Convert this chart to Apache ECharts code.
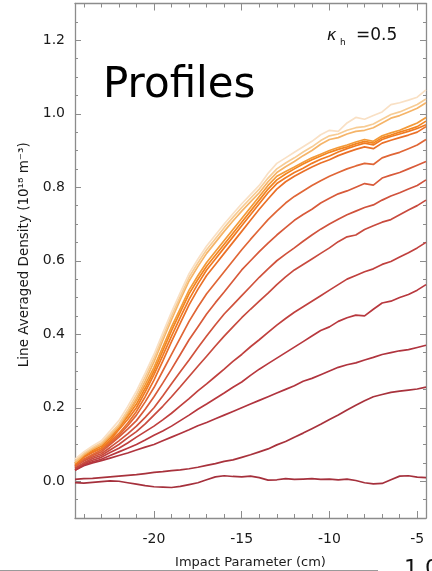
<!DOCTYPE html>
<html>
<head>
<meta charset="utf-8">
<script src="https://cdn.jsdelivr.net/npm/echarts@6/dist/echarts.min.js"></script>
<style>
  html, body { margin: 0; padding: 0; background: #fff; }
  #chart { width: 432px; height: 571px; }
</style>
</head>
<body>
<div id="chart"></div>
<script>
// Impact parameter positions (cm), every 0.5 cm
const impact = [-24.5, -24, -23.5, -23, -22.5, -22, -21.5, -21, -20.5, -20, -19.5, -19, -18.5, -18, -17.5, -17,
                -16.5, -16, -15.5, -15, -14.5, -14, -13.5, -13, -12.5, -12, -11.5, -11, -10.5, -10, -9.5, -9,
                -8.5, -8, -7.5, -7, -6.5, -6, -5.5, -5, -4.5];

// Line averaged density profiles (10^18 m^-3), lowest to highest
const profile01 = [-0.004, -0.005, -0.003, -0.001, 0.001, 0.0, -0.004, -0.008, -0.012, -0.015, -0.016, -0.017, -0.014, -0.009, -0.004, 0.004, 0.012, 0.015, 0.013, 0.012, 0.014, 0.01, 0.003, 0.004, 0.007, 0.005, 0.006, 0.007, 0.005, 0.006, 0.004, 0.006, 0.002, -0.004, -0.007, -0.006, 0.004, 0.014, 0.015, 0.011, 0.01];
const profile02 = [0.005, 0.007, 0.008, 0.01, 0.012, 0.014, 0.016, 0.018, 0.021, 0.024, 0.026, 0.029, 0.031, 0.034, 0.038, 0.043, 0.048, 0.054, 0.058, 0.065, 0.072, 0.08, 0.088, 0.099, 0.108, 0.12, 0.131, 0.143, 0.155, 0.168, 0.18, 0.194, 0.207, 0.219, 0.23, 0.236, 0.242, 0.245, 0.248, 0.251, 0.256];
const profile03 = [0.03, 0.042, 0.05, 0.056, 0.063, 0.07, 0.077, 0.085, 0.093, 0.10, 0.11, 0.12, 0.13, 0.14, 0.151, 0.16, 0.17, 0.18, 0.19, 0.20, 0.21, 0.22, 0.23, 0.24, 0.25, 0.26, 0.272, 0.28, 0.29, 0.30, 0.31, 0.317, 0.322, 0.33, 0.337, 0.345, 0.35, 0.355, 0.358, 0.364, 0.37];
const profile04 = [0.03, 0.045, 0.053, 0.06, 0.07, 0.08, 0.09, 0.10, 0.112, 0.125, 0.137, 0.15, 0.165, 0.18, 0.196, 0.21, 0.225, 0.24, 0.256, 0.27, 0.288, 0.305, 0.32, 0.335, 0.35, 0.365, 0.38, 0.395, 0.41, 0.42, 0.435, 0.445, 0.452, 0.45, 0.468, 0.485, 0.49, 0.50, 0.508, 0.52, 0.535];
const profile05 = [0.035, 0.048, 0.057, 0.065, 0.078, 0.09, 0.104, 0.12, 0.135, 0.15, 0.167, 0.185, 0.205, 0.225, 0.246, 0.265, 0.285, 0.305, 0.326, 0.345, 0.366, 0.385, 0.405, 0.425, 0.443, 0.46, 0.475, 0.49, 0.505, 0.52, 0.535, 0.55, 0.56, 0.57, 0.578, 0.59, 0.598, 0.61, 0.622, 0.635, 0.65];
const profile06 = [0.035, 0.05, 0.062, 0.07, 0.085, 0.10, 0.118, 0.135, 0.156, 0.18, 0.204, 0.23, 0.257, 0.285, 0.313, 0.34, 0.368, 0.395, 0.42, 0.445, 0.468, 0.49, 0.512, 0.535, 0.556, 0.575, 0.59, 0.605, 0.62, 0.635, 0.652, 0.665, 0.67, 0.685, 0.695, 0.705, 0.712, 0.725, 0.738, 0.75, 0.765];
const profile07 = [0.04, 0.055, 0.066, 0.075, 0.092, 0.11, 0.129, 0.15, 0.174, 0.20, 0.232, 0.265, 0.298, 0.33, 0.363, 0.395, 0.426, 0.455, 0.48, 0.505, 0.53, 0.555, 0.578, 0.60, 0.618, 0.635, 0.653, 0.67, 0.686, 0.70, 0.713, 0.725, 0.735, 0.745, 0.752, 0.765, 0.776, 0.785, 0.795, 0.805, 0.82];
const profile08 = [0.04, 0.058, 0.07, 0.08, 0.10, 0.12, 0.142, 0.165, 0.196, 0.23, 0.267, 0.305, 0.345, 0.385, 0.42, 0.455, 0.486, 0.515, 0.545, 0.575, 0.60, 0.625, 0.648, 0.67, 0.69, 0.71, 0.726, 0.74, 0.757, 0.77, 0.782, 0.79, 0.80, 0.81, 0.806, 0.825, 0.833, 0.84, 0.85, 0.86, 0.87];
const profile09 = [0.04, 0.06, 0.073, 0.085, 0.104, 0.125, 0.151, 0.18, 0.216, 0.255, 0.30, 0.345, 0.39, 0.435, 0.474, 0.51, 0.54, 0.57, 0.60, 0.63, 0.658, 0.685, 0.712, 0.735, 0.757, 0.775, 0.79, 0.805, 0.818, 0.83, 0.84, 0.85, 0.858, 0.865, 0.862, 0.88, 0.888, 0.895, 0.905, 0.915, 0.93];
const profile10 = [0.045, 0.065, 0.078, 0.09, 0.108, 0.13, 0.158, 0.19, 0.23, 0.275, 0.327, 0.38, 0.43, 0.48, 0.522, 0.56, 0.59, 0.62, 0.65, 0.68, 0.71, 0.74, 0.768, 0.795, 0.815, 0.83, 0.843, 0.855, 0.866, 0.875, 0.886, 0.895, 0.903, 0.91, 0.905, 0.92, 0.928, 0.935, 0.942, 0.95, 0.965];
const profile11 = [0.045, 0.066, 0.08, 0.09, 0.112, 0.14, 0.168, 0.20, 0.243, 0.29, 0.342, 0.395, 0.446, 0.495, 0.537, 0.575, 0.605, 0.635, 0.665, 0.695, 0.725, 0.755, 0.785, 0.81, 0.826, 0.84, 0.852, 0.865, 0.876, 0.885, 0.896, 0.905, 0.913, 0.92, 0.915, 0.93, 0.938, 0.945, 0.952, 0.96, 0.97];
const profile12 = [0.05, 0.07, 0.084, 0.095, 0.118, 0.145, 0.176, 0.21, 0.253, 0.30, 0.355, 0.41, 0.46, 0.51, 0.549, 0.585, 0.615, 0.645, 0.675, 0.705, 0.735, 0.765, 0.795, 0.82, 0.836, 0.85, 0.863, 0.875, 0.885, 0.895, 0.903, 0.91, 0.918, 0.925, 0.92, 0.935, 0.942, 0.95, 0.957, 0.965, 0.98];
const profile13 = [0.05, 0.072, 0.088, 0.10, 0.124, 0.15, 0.183, 0.22, 0.263, 0.31, 0.365, 0.42, 0.47, 0.52, 0.559, 0.595, 0.625, 0.655, 0.685, 0.715, 0.745, 0.775, 0.805, 0.83, 0.843, 0.855, 0.868, 0.88, 0.89, 0.90, 0.908, 0.915, 0.923, 0.93, 0.925, 0.94, 0.948, 0.955, 0.965, 0.975, 0.99];
const profile14 = [0.05, 0.072, 0.088, 0.10, 0.124, 0.15, 0.186, 0.225, 0.273, 0.325, 0.383, 0.44, 0.494, 0.545, 0.584, 0.62, 0.65, 0.68, 0.708, 0.735, 0.76, 0.785, 0.815, 0.84, 0.856, 0.87, 0.886, 0.90, 0.917, 0.93, 0.935, 0.945, 0.952, 0.955, 0.962, 0.975, 0.988, 0.995, 1.005, 1.015, 1.03];
const profile15 = [0.055, 0.076, 0.092, 0.105, 0.129, 0.155, 0.193, 0.235, 0.284, 0.335, 0.393, 0.45, 0.503, 0.555, 0.594, 0.63, 0.66, 0.69, 0.718, 0.745, 0.77, 0.795, 0.825, 0.85, 0.866, 0.88, 0.896, 0.91, 0.927, 0.94, 0.945, 0.955, 0.962, 0.965, 0.972, 0.985, 0.998, 1.005, 1.015, 1.025, 1.04];
const profile16 = [0.06, 0.08, 0.096, 0.11, 0.137, 0.165, 0.203, 0.245, 0.294, 0.345, 0.403, 0.46, 0.513, 0.565, 0.604, 0.64, 0.67, 0.70, 0.728, 0.755, 0.78, 0.805, 0.838, 0.865, 0.88, 0.895, 0.91, 0.925, 0.943, 0.955, 0.952, 0.975, 0.99, 0.985, 0.995, 1.005, 1.025, 1.03, 1.037, 1.045, 1.065];

const profiles = [profile01, profile02, profile03, profile04, profile05, profile06, profile07, profile08,
                  profile09, profile10, profile11, profile12, profile13, profile14, profile15, profile16];

// Dark red for the lowest profile through orange to pale peach for the highest
const profileColors = ['#a5303c', '#a8323c', '#b0343e', '#b8383e', '#c0403e', '#c84a3e', '#d0523c', '#d85a3a',
                       '#e06636', '#ea7028', '#f07a22', '#f28420', '#f39a38', '#f5b468', '#f7cc94', '#f9e0c4'];

// Tick positions
const xMajor = [-20, -15, -10, -5];
const xMinor = [-24, -23, -22, -21, -19, -18, -17, -16, -14, -13, -12, -11, -9, -8, -7, -6];
const yMajor = [0, 0.2, 0.4, 0.6, 0.8, 1.0, 1.2];
const yMinor = [-0.05, 0.05, 0.1, 0.15, 0.25, 0.3, 0.35, 0.45, 0.5, 0.55, 0.65, 0.7, 0.75, 0.85, 0.9, 0.95, 1.05, 1.1, 1.15, 1.25];

const X_MIN = -24.5, X_MAX = -4.5, Y_MIN = -0.1, Y_MAX = 1.3;
const FONT = 'DejaVu Sans';
const AXIS_GREY = '#8c8c8c';

function xAxisDef(position, values, len, showLine, showLabel) {
  return {
    type: 'value', position: position, min: X_MIN, max: X_MAX,
    axisLine: { show: showLine, onZero: false, lineStyle: { color: AXIS_GREY, width: 1.3 } },
    axisTick: { show: true, inside: true, length: len, customValues: values, lineStyle: { color: AXIS_GREY, width: 1 } },
    axisLabel: showLabel
      ? { show: true, customValues: xMajor, margin: 14, color: '#1a1a1a', fontFamily: FONT, fontSize: 14 }
      : { show: false },
    splitLine: { show: false }
  };
}

function yAxisDef(position, values, len, showLine, showLabel) {
  return {
    type: 'value', position: position, min: Y_MIN, max: Y_MAX,
    axisLine: { show: showLine, onZero: false, lineStyle: { color: AXIS_GREY, width: 1.3 } },
    axisTick: { show: true, inside: true, length: len, customValues: values, lineStyle: { color: AXIS_GREY, width: 1 } },
    axisLabel: showLabel
      ? { show: true, customValues: yMajor, margin: 10, color: '#1a1a1a', fontFamily: FONT, fontSize: 14,
          formatter: v => v.toFixed(1) }
      : { show: false },
    splitLine: { show: false }
  };
}

const xAxes = [
  xAxisDef('bottom', xMajor, 7, true, true),
  xAxisDef('bottom', xMinor, 4, false, false),
  xAxisDef('top', xMajor, 7, true, false),
  xAxisDef('top', xMinor, 4, false, false)
];
xAxes[0].name = 'Impact Parameter (cm)';
xAxes[0].nameLocation = 'middle';
xAxes[0].nameGap = 38;
xAxes[0].nameTextStyle = { color: '#1a1a1a', fontFamily: FONT, fontSize: 13 };

const yAxes = [
  yAxisDef('left', yMajor, 6, true, true),
  yAxisDef('left', yMinor, 3, false, false),
  yAxisDef('right', yMajor, 6, true, false),
  yAxisDef('right', yMinor, 3, false, false)
];
yAxes[0].name = 'Line Averaged Density (10¹⁸ m⁻³)';
yAxes[0].nameLocation = 'middle';
yAxes[0].nameGap = 35;
yAxes[0].nameRotate = 90;
yAxes[0].nameTextStyle = { color: '#1a1a1a', fontFamily: FONT, fontSize: 13.5, padding: [0, 0, 0, 12] };

const series = profiles.map((vals, i) => ({
  type: 'line',
  xAxisIndex: 0,
  yAxisIndex: 0,
  data: impact.map((x, j) => [x, vals[j]]),
  showSymbol: false,
  smooth: false,
  lineStyle: { color: profileColors[i], width: 1.7 },
  silent: true,
  z: 2
}));

const chart = echarts.init(document.getElementById('chart'), null, { renderer: 'canvas' });
chart.setOption({
  backgroundColor: '#ffffff',
  animation: false,
  grid: { left: 75, right: 6, top: 3.5, bottom: 53, containLabel: false, outerBoundsMode: 'none' },
  xAxis: xAxes,
  yAxis: yAxes,
  series: series,
  graphic: [
    { type: 'text', left: 103, top: 65,
      style: { text: 'Profiles', fontFamily: FONT, fontSize: 42, fill: '#000' } },
    { type: 'text', left: 327, top: 28,
      style: { text: 'κ', fontFamily: FONT, fontStyle: 'italic', fontSize: 16, fill: '#111' } },
    { type: 'text', left: 340, top: 38,
      style: { text: 'h', fontFamily: FONT, fontSize: 9, fill: '#111' } },
    { type: 'text', left: 356, top: 27,
      style: { text: '=0.5', fontFamily: FONT, fontSize: 17, fill: '#111' } },
    { type: 'line', shape: { x1: 0, y1: 570.5, x2: 378, y2: 570.5 },
      style: { stroke: '#9a9a9a', lineWidth: 1 } },
    { type: 'text', left: 404, top: 558,
      style: { text: '1.0', fontFamily: FONT, fontSize: 22, fill: '#111' } }
  ]
});
</script>
</body>
</html>
